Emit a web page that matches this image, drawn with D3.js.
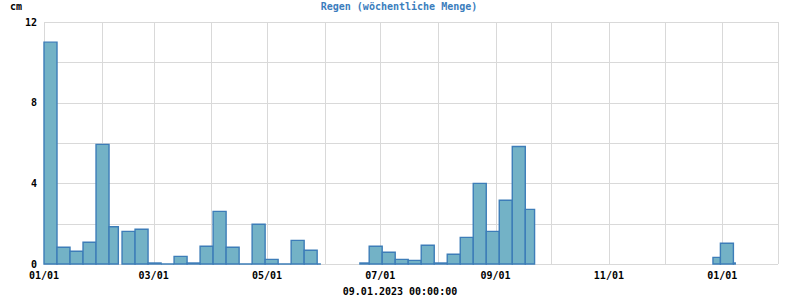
<!DOCTYPE html>
<html>
<head>
<meta charset="utf-8">
<script src="https://cdn.jsdelivr.net/npm/d3@7"></script>
<style>
  body { margin: 0; background: #fff; }
  text { font-family: "DejaVu Sans Mono", "Liberation Mono", monospace; font-weight: bold; font-size: 10px; }
</style>
</head>
<body>
<div id="chart"></div>
<script>
// weekly rain, start / end of each period and amount in cm
var weekStarts = ["2023-01-01","2023-01-08","2023-01-15","2023-01-22","2023-01-29","2023-02-05",
  "2023-02-12","2023-02-19","2023-02-26","2023-03-05","2023-03-12","2023-03-19","2023-03-26",
  "2023-04-02","2023-04-09","2023-04-16","2023-04-23","2023-04-30","2023-05-07","2023-05-14",
  "2023-05-21","2023-05-28","2023-06-20","2023-06-25","2023-07-02","2023-07-09","2023-07-16",
  "2023-07-23","2023-07-30","2023-08-06","2023-08-13","2023-08-20","2023-08-27","2023-09-03",
  "2023-09-10","2023-09-17","2023-12-27","2023-12-31","2024-01-07"];
var weekEnds = ["2023-01-08","2023-01-15","2023-01-22","2023-01-29","2023-02-05","2023-02-10",
  "2023-02-19","2023-02-26","2023-03-05","2023-03-12","2023-03-19","2023-03-26","2023-04-02",
  "2023-04-09","2023-04-16","2023-04-23","2023-04-30","2023-05-07","2023-05-14","2023-05-21",
  "2023-05-28","2023-05-30","2023-06-25","2023-07-02","2023-07-09","2023-07-16","2023-07-23",
  "2023-07-30","2023-08-06","2023-08-13","2023-08-20","2023-08-27","2023-09-03","2023-09-10",
  "2023-09-17","2023-09-22","2023-12-31","2024-01-07","2024-01-08"];
var rain = [11.0, 0.83, 0.63, 1.08, 5.93, 1.85,
  1.62, 1.72, 0.05, 0, 0.38, 0.05, 0.88,
  2.61, 0.83, 0, 1.97, 0.23, 0, 1.17,
  0.68, 0, 0.05, 0.88, 0.58, 0.23, 0.18,
  0.93, 0.05, 0.48, 1.32, 4.0, 1.62, 3.16,
  5.83, 2.71, 0.33, 1.03, 0.05];
var yTicks = [0, 4, 8, 12];
var xDomain = ["2023-01-01", "2024-01-31"];
var title = "Regen (wöchentliche Menge)";
var unit = "cm";
var stamp = "09.01.2023 00:00:00";

var W = 800, H = 300;
var m = {left: 44, top: 22, right: 22, bottom: 36};
var iw = W - m.left - m.right, ih = H - m.top - m.bottom;
var parse = d3.utcParse("%Y-%m-%d");

var data = rain.map(function(v, i) {
  return {start: parse(weekStarts[i]), end: parse(weekEnds[i]), value: v};
});

var x = d3.scaleUtc().domain(xDomain.map(parse)).range([0, iw]);
var y = d3.scaleLinear().domain([0, 12]).range([ih, 0]);

var svg = d3.select("#chart").append("svg")
  .attr("width", W).attr("height", H);

var g = svg.append("g").attr("transform", "translate(" + m.left + "," + m.top + ")");

// grid
var months = d3.utcMonth.range(x.domain()[0], x.domain()[1]);
g.append("g").selectAll("line").data(months).enter().append("line")
  .attr("x1", function(d) { return Math.round(x(d)) + 0.5; })
  .attr("x2", function(d) { return Math.round(x(d)) + 0.5; })
  .attr("y1", 0).attr("y2", ih)
  .attr("stroke", "#d9d9d9");
g.append("g").selectAll("line").data(d3.range(0, 13, 2)).enter().append("line")
  .attr("x1", 0).attr("x2", iw)
  .attr("y1", function(d) { return Math.round(y(d)) + 0.5; })
  .attr("y2", function(d) { return Math.round(y(d)) + 0.5; })
  .attr("stroke", "#d9d9d9");
g.append("line")
  .attr("x1", iw + 0.5).attr("x2", iw + 0.5).attr("y1", 0).attr("y2", ih)
  .attr("stroke", "#d9d9d9");

// bars as paths, so the zero weeks still draw their outline
function barPath(d) {
  var p = d3.path();
  var x0 = x(d.start), x1 = x(d.end), y0 = y(0), y1 = y(d.value);
  p.moveTo(x0, y0);
  p.lineTo(x0, y1);
  p.lineTo(x1, y1);
  p.lineTo(x1, y0);
  p.closePath();
  return p.toString();
}
g.append("g").selectAll("path").data(data).enter().append("path")
  .attr("d", barPath)
  .attr("fill", "#73b2c6")
  .attr("stroke", "#3d7db8")
  .attr("stroke-width", 1.4)
  .attr("stroke-linejoin", "miter");

// y labels
g.append("g").selectAll("text").data(yTicks).enter().append("text")
  .attr("x", -7).attr("y", function(d) { return y(d); })
  .attr("dy", "0.35em")
  .attr("text-anchor", "end")
  .attr("fill", "#000")
  .text(function(d) { return d; });

// x labels every second month
var xTicks = d3.utcMonth.every(2).range(x.domain()[0], x.domain()[1]);
g.append("g").selectAll("text").data(xTicks).enter().append("text")
  .attr("x", function(d) { return x(d); })
  .attr("y", ih + 15)
  .attr("text-anchor", "middle")
  .attr("fill", "#000")
  .text(d3.utcFormat("%m/%d"));

svg.append("text").attr("x", 10).attr("y", 10).attr("fill", "#000").text(unit);
svg.append("text").attr("x", 399).attr("y", 10)
  .attr("text-anchor", "middle").attr("fill", "#3b7dbd").text(title);
svg.append("text").attr("x", 400).attr("y", 295)
  .attr("text-anchor", "middle").attr("fill", "#000").text(stamp);
</script>
</body>
</html>
